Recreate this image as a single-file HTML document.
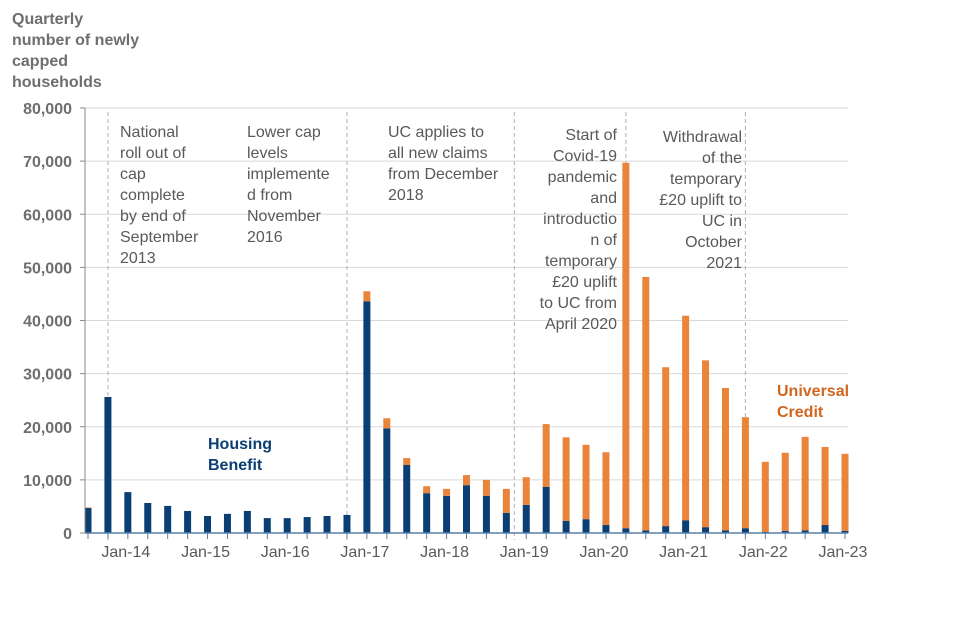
<!DOCTYPE html>
<html><head><meta charset="utf-8"><style>
body{margin:0;background:#fff;}
svg{display:block;font-family:"Liberation Sans",Arial,sans-serif;}
</style></head><body>
<svg id="chart" width="960" height="640">
<g id="grid"></g>
<g id="vlines"></g>
<g id="bars"></g>
<g id="axes"></g>
<g id="notes"></g>
<text fill="#6e6e6e" font-weight="bold" font-size="16"><tspan x="12" y="24">Quarterly</tspan><tspan x="12" y="45">number of newly</tspan><tspan x="12" y="66">capped</tspan><tspan x="12" y="87">households</tspan></text>
<text fill="#0b3f73" font-weight="bold" font-size="16"><tspan x="208" y="449">Housing</tspan><tspan x="208" y="470">Benefit</tspan></text>
<text fill="#d1661f" font-weight="bold" font-size="16"><tspan x="777" y="396">Universal</tspan><tspan x="777" y="417">Credit</tspan></text>
</svg>
<script>
const categories=["Jul-13","Oct-13","Jan-14","Apr-14","Jul-14","Oct-14","Jan-15","Apr-15","Jul-15","Oct-15","Jan-16","Apr-16","Jul-16","Oct-16","Jan-17","Apr-17","Jul-17","Oct-17","Jan-18","Apr-18","Jul-18","Oct-18","Jan-19","Apr-19","Jul-19","Oct-19","Jan-20","Apr-20","Jul-20","Oct-20","Jan-21","Apr-21","Jul-21","Oct-21","Jan-22","Apr-22","Jul-22","Oct-22","Jan-23"];
const housingBenefit=[4700,25600,7700,5650,5100,4150,3200,3600,4150,2800,2800,3000,3200,3400,43600,19700,12800,7500,7000,9000,7000,3800,5300,8700,2300,2600,1500,900,500,1300,2400,1100,500,900,200,400,500,1500,400];
const totals=[4800,25600,7700,5650,5100,4150,3200,3600,4150,2800,2800,3000,3200,3400,45500,21600,14100,8800,8300,10900,10000,8300,10500,20500,18000,16600,15200,69700,48200,31200,40900,32500,27300,21800,13400,15100,18100,16200,14900];
const yTicks=[0,10000,20000,30000,40000,50000,60000,70000,80000];
const xLabels=["Jan-14","Jan-15","Jan-16","Jan-17","Jan-18","Jan-19","Jan-20","Jan-21","Jan-22","Jan-23"];
const markerCats=["Oct-13","Oct-16","Oct-18","Apr-20","Oct-21"];
const markerShift=[0,0,0.4,0,0];
const NS="http://www.w3.org/2000/svg";
const X0=88,DX=(845-88)/38,Y0=533,YS=(533-108)/80000,BW=7;
const x=i=>X0+i*DX, y=v=>Y0-v*YS;
function mk(tag,attrs,parent){const e=document.createElementNS(NS,tag);for(const k in attrs)e.setAttribute(k,attrs[k]);parent.appendChild(e);return e;}
const grid=document.getElementById('grid'),bars=document.getElementById('bars'),axes=document.getElementById('axes'),vl=document.getElementById('vlines'),notes=document.getElementById('notes');
yTicks.forEach(v=>{
 if(v>0){const g=mk('line',{x1:85,x2:848,y1:y(v),y2:y(v),stroke:'#d9d9d9','stroke-width':1},grid);
 
 }
 const tk=mk('line',{x1:80,x2:85,y1:y(v),y2:y(v),stroke:'#8a8a8a'},axes);
 
 
 const t=mk('text',{x:72,y:y(v)+6,'text-anchor':'end','font-size':16,'font-weight':'bold',fill:'#6e6e6e'},axes);
 t.textContent=v.toLocaleString('en-GB');
 
 
});
markerCats.forEach((c,k)=>{const i=categories.indexOf(c)+markerShift[k];
 const l=mk('line',{x1:x(i),x2:x(i),y1:112,y2:540,stroke:'#b0b0b0','stroke-dasharray':'4,3'},vl);
 
 
});
categories.forEach((c,i)=>{
 const hb=mk('rect',{x:x(i)-BW/2,y:y(housingBenefit[i]),width:BW,height:housingBenefit[i]*YS,fill:'#0b3f73'},bars);
 
 
 const uc=totals[i]-housingBenefit[i];
 if(uc>0){const r=mk('rect',{x:x(i)-BW/2,y:y(totals[i]),width:BW,height:uc*YS,fill:'#e9843a'},bars);
 
 }
 const tk=mk('line',{x1:x(i),x2:x(i),y1:533,y2:539,stroke:'#5b7fa8'},axes);
 
 
});
const ax=mk('line',{x1:85,x2:848,y1:533,y2:533,stroke:'#5b7fa8','stroke-width':1.5},axes);


const ay=mk('line',{x1:85,x2:85,y1:108,y2:533,stroke:'#8a8a8a'},axes);


xLabels.forEach(l=>{const i=categories.indexOf(l);
 const t=mk('text',{x:x(i)-2,y:557,'text-anchor':'middle','font-size':16,fill:'#595959'},axes);
 t.textContent=l;
 
 
});
function note(lines,xx,yy,anchor){const t=mk('text',{'font-size':16,fill:'#595959','text-anchor':anchor},notes);
 
 
 lines.forEach((s,k)=>{const ts=mk('tspan',{x:xx,y:yy+k*21},t);ts.textContent=s;});}
note(["National","roll out of","cap","complete","by end of","September","2013"],120,137,'start');
note(["Lower cap","levels","implemente","d from","November","2016"],247,137,'start');
note(["UC applies to","all new claims","from December","2018"],388,137,'start');
note(["Start of","Covid-19","pandemic","and","introductio","n of","temporary","£20 uplift","to UC from","April 2020"],617,140,'end');
note(["Withdrawal","of the","temporary","£20 uplift to","UC in","October","2021"],742,142,'end');
</script>
</body></html>
